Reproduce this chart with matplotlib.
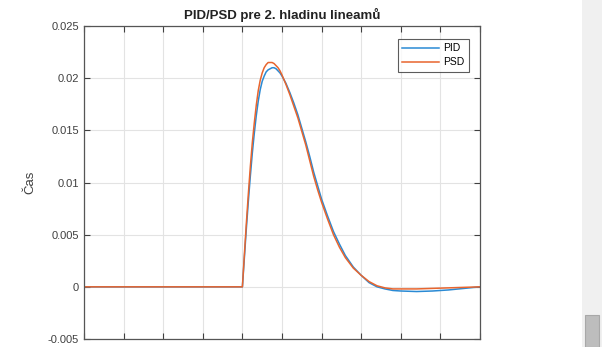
import numpy as np
import matplotlib.pyplot as plt
from matplotlib.patches import Rectangle

plt.rcParams['font.family'] = ['Liberation Sans', 'DejaVu Sans']

# hodnoty odcitane z grafu
t = [0, 4.0, 4.05, 4.1, 4.15, 4.2, 4.25, 4.3, 4.35, 4.4, 4.45, 4.5, 4.55, 4.6,
     4.65, 4.7, 4.75, 4.8, 4.85, 4.9, 4.95, 5.0, 5.1, 5.2, 5.3, 5.4, 5.5, 5.6,
     5.7, 5.8, 5.9, 6.0, 6.15, 6.3, 6.45, 6.6, 6.8, 7.0, 7.2, 7.4, 7.6, 7.8,
     8.0, 8.4, 8.8, 9.2, 9.6, 10.0]
pid = [0, 0, 0.0028, 0.0056, 0.0082, 0.0106, 0.0128, 0.0147, 0.0164, 0.0178,
       0.0189, 0.0197, 0.0202, 0.0206, 0.0208, 0.0209, 0.0210, 0.0210, 0.0209,
       0.0207, 0.0205, 0.0202, 0.0195, 0.0186, 0.0176, 0.0165, 0.0152, 0.0139,
       0.0125, 0.0110, 0.0097, 0.0084, 0.0068, 0.0053, 0.0041, 0.0030, 0.0019,
       0.0011, 0.0004, 0.0, -0.0002, -0.00035, -0.0004, -0.00045, -0.0004,
       -0.0003, -0.00015, 0.0]
psd = [0, 0, 0.0031, 0.0061, 0.0089, 0.0115, 0.0138, 0.0157, 0.0174, 0.0188,
       0.0198, 0.0205, 0.0210, 0.0213, 0.0215, 0.0215, 0.0215, 0.0214, 0.0212,
       0.0210, 0.0207, 0.0203, 0.0194, 0.0184, 0.0173, 0.0162, 0.0149, 0.0136,
       0.0121, 0.0106, 0.0093, 0.0081, 0.0065, 0.0050, 0.0038, 0.0028, 0.0018,
       0.0011, 0.0005, 0.0001, -0.0001, -0.0002, -0.0002, -0.0002, -0.00015,
       -0.0001, -0.00005, 0.0]
xticks = list(range(0, 11))
yticks = [-0.005, 0, 0.005, 0.01, 0.015, 0.02, 0.025]
ytick_labels = ['-0.005', '0', '0.005', '0.01', '0.015', '0.02', '0.025']

fig = plt.figure(figsize=(6.02, 3.47), dpi=100)
fig.patch.set_facecolor('white')

# seda lista vpravo (okno)
fig.patches.append(Rectangle((582 / 602, 0), 20 / 602, 1, transform=fig.transFigure,
                             facecolor='#f0f0f0', edgecolor='none', zorder=0))
fig.patches.append(Rectangle((585 / 602, 0), 14 / 602, 32 / 347, transform=fig.transFigure,
                             facecolor='#bdbdbd', edgecolor='#a8a8a8', lw=0.8, zorder=1))

ax = fig.add_axes([84 / 602, 1 - 339 / 347, 396 / 602, 313 / 347])
ax.plot(t, pid, color='#2a8ad4', lw=1.1, label='PID')
ax.plot(t, psd, color='#e8652e', lw=1.1, label='PSD')

ax.set_xlim(0, 10)
ax.set_ylim(-0.005, 0.025)
ax.set_xticks(xticks)
ax.set_yticks(yticks)
ax.set_yticklabels(ytick_labels)
ax.grid(True, color='#e3e3e3', lw=0.8)
ax.set_axisbelow(True)
ax.tick_params(direction='in', top=True, right=True, length=4, width=0.8,
               colors='#404040', labelsize=8)
# popisy osi x su v originale odrezane spodnym okrajom
ax.tick_params(axis='x', pad=8)
for s in ax.spines.values():
    s.set_color('#555555')
    s.set_linewidth(0.9)

ax.set_title('PID/PSD pre 2. hladinu lineamů', fontsize=9.5, fontweight='bold',
             color='#222222', pad=5)
ax.set_ylabel('Čas', fontsize=9.5, color='#404040', labelpad=8)

leg = ax.legend(loc='upper right', fontsize=7.5, frameon=True, fancybox=False,
                edgecolor='#333333', handlelength=3.6, handletextpad=0.4,
                borderpad=0.4, labelspacing=0.4, bbox_to_anchor=(0.985, 0.975))
leg.get_frame().set_linewidth(0.8)

fig.savefig('out.png', dpi=100)
